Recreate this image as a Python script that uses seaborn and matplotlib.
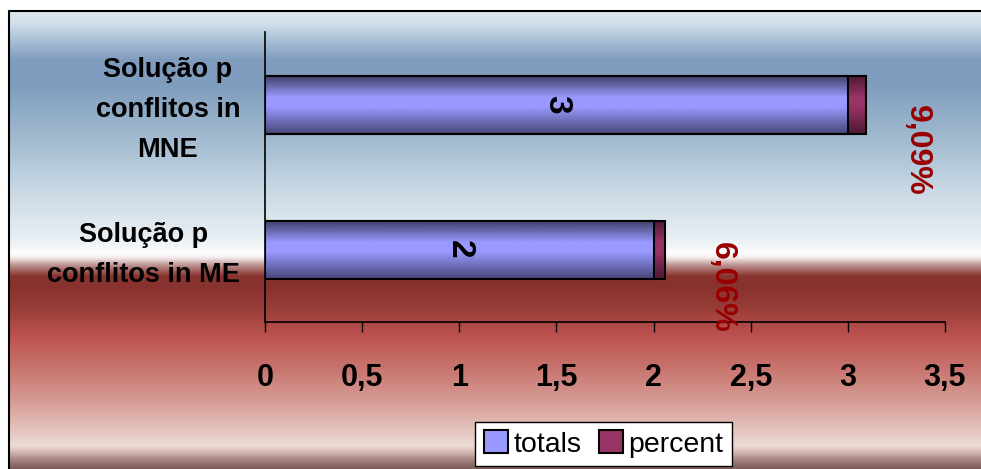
import numpy as np
import pandas as pd
import matplotlib
matplotlib.use("Agg")
import matplotlib.pyplot as plt
import matplotlib.transforms as mtransforms
from matplotlib.colors import LinearSegmentedColormap, to_rgb
from matplotlib.patches import Patch
import seaborn as sns

# ---- data ----
categories = ["Solução p\nconflitos in\nMNE", "Solução p\nconflitos in ME"]
totals = [3, 2]
percent = [0.0909, 0.0606]
percent_labels = ["9,09%", "6,06%"]
x_ticks = [0, 0.5, 1, 1.5, 2, 2.5, 3, 3.5]
x_tick_labels = ["0", "0,5", "1", "1,5", "2", "2,5", "3", "3,5"]
series_names = ["totals", "percent"]

sns.set_theme(style="white")
plt.rcParams["font.family"] = ["Liberation Sans", "DejaVu Sans"]
plt.rcParams["text.color"] = "black"
plt.rcParams["xtick.color"] = "black"
plt.rcParams["ytick.color"] = "black"
plt.rcParams["xtick.labelcolor"] = "black"
plt.rcParams["ytick.labelcolor"] = "black"

W, H = 981, 469
fig = plt.figure(figsize=(W / 100, H / 100), dpi=100)
fig.patch.set_facecolor("white")

# ---- background gradient ----
bg = fig.add_axes([0, 0, 1, 1], zorder=0)
bg.set_xlim(0, W)
bg.set_ylim(H, 0)
bg.axis("off")
stops = [
    (11, "#dce8f0"), (22, "#d2e0ea"), (40, "#a8bfd4"), (60, "#809cbe"),
    (85, "#7f9dbe"), (130, "#9cb6cc"), (190, "#c8d8e4"), (240, "#eaf0f4"),
    (254, "#fdfdfd"), (258, "#f2e8e8"), (266, "#b88a88"), (276, "#8a3430"),
    (288, "#88322f"), (310, "#9a3e3a"), (335, "#bc5250"), (370, "#c97670"),
    (400, "#d69a94"), (430, "#e4c4bc"), (446, "#ecdcd6"), (452, "#d6bcb4"),
    (460, "#a58680"), (469, "#7c5c56"),
]
ys = np.arange(11, H + 1)
sy = np.array([s[0] for s in stops], float)
sc = np.array([to_rgb(s[1]) for s in stops])
grad = np.stack([np.interp(ys, sy, sc[:, k]) for k in range(3)], axis=-1)
bg.imshow(grad[:, None, :], extent=(9, W, H, 11), aspect="auto",
          interpolation="bilinear")
bg.plot([9, 9, W], [H, 11, 11], color="black", lw=1.5, solid_capstyle="butt")

# ---- main axes ----
ax = fig.add_axes([265 / W, (H - 322) / H, 680 / W, 290 / H], zorder=1)
ax.patch.set_alpha(0)

df = pd.DataFrame({"cat": categories, "totals": totals,
                   "sum": [t + p for t, p in zip(totals, percent)]})

sns.barplot(data=df, y="cat", x="sum", color="#993366", width=0.4,
            edgecolor="black", linewidth=1.5, saturation=1, ax=ax, orient="h")
n_sum = len(ax.patches)
sns.barplot(data=df, y="cat", x="totals", color="#9999ff", width=0.4,
            edgecolor="black", linewidth=1.5, saturation=1, ax=ax, orient="h")

def cyl_cmap(light, dark_top, dark_bot):
    return LinearSegmentedColormap.from_list(
        "c", [(0, dark_top), (0.38, light), (0.55, light), (1, dark_bot)])

cm_pct = cyl_cmap("#993366", "#4a1a32", "#4e1a34")
cm_tot = cyl_cmap("#9999ff", "#3e3e66", "#4a4a7c")
gvals = np.linspace(0, 1, 64)[:, None]
for i, p in enumerate(ax.patches):
    cm = cm_pct if i < n_sum else cm_tot
    z = 2 if i < n_sum else 3
    x0, y0 = p.get_x(), p.get_y()
    w, h = p.get_width(), p.get_height()
    im = ax.imshow(gvals, cmap=cm, extent=(x0, x0 + w, y0 + h, y0),
                   aspect="auto", interpolation="bilinear", zorder=z)
    im.set_clip_path(p)
    p.set_facecolor("none")
    p.set_zorder(z + 0.5)

ax.set_xlim(0, 3.5)
ax.set_ylim(1.5, -0.5)
ax.set_xticks(x_ticks)
ax.set_xticklabels(x_tick_labels, fontsize=22, fontweight="bold", color="black")
ax.set_yticks(range(len(categories)))
ax.set_yticklabels([])
ax.set_xlabel("")
ax.set_ylabel("")
ax.tick_params(axis="x", direction="out", length=7.2, width=1, color="black",
               pad=22, bottom=True)
ax.tick_params(axis="y", length=0)

# category labels (drawn as text so the vertical placement can be tuned)
lab_tr = mtransforms.blended_transform_factory(ax.transAxes, ax.transData) + \
    mtransforms.ScaledTranslation(-25 / 100, -5.5 / 100, fig.dpi_scale_trans)
for i, c in enumerate(categories):
    ax.text(0, i, c, transform=lab_tr, ha="right", va="center",
            multialignment="center", linespacing=1.68, fontsize=19.5,
            fontweight="bold", color="black")

for s in ["top", "right"]:
    ax.spines[s].set_visible(False)
for s in ["left", "bottom"]:
    ax.spines[s].set_color("black")
    ax.spines[s].set_linewidth(1.2)
ax.grid(False)

# value labels inside totals segment
for i, t in enumerate(totals):
    ax.text(t / 2, i, str(t), rotation=-90, ha="center", va="center",
            fontsize=24, fontweight="bold", color="black", zorder=5)

# percent labels
offsets = [(51, -46), (57, -38)]
for i, (t, pc, lab) in enumerate(zip(totals, percent, percent_labels)):
    ax.annotate(lab, xy=(t + pc, i), xytext=(offsets[i][0] * 0.72, offsets[i][1] * 0.72),
                textcoords="offset points", rotation=-90, ha="center",
                va="center", fontsize=23, fontweight="bold", color="#990000",
                zorder=5, annotation_clip=False)

# legend
handles = [Patch(facecolor="#9999ff", edgecolor="black", linewidth=1.5),
           Patch(facecolor="#993366", edgecolor="black", linewidth=1.5)]
leg = fig.legend(handles, series_names, loc="center",
                 bbox_to_anchor=(603.5 / W, 1 - 444 / H), ncol=2,
                 fontsize=20.5, frameon=True, fancybox=False,
                 handlelength=0.85, handleheight=0.85, handletextpad=0.2,
                 columnspacing=0.6, borderpad=0.3, borderaxespad=0)
leg.get_frame().set_edgecolor("black")
leg.get_frame().set_linewidth(1)
leg.get_frame().set_facecolor("white")
leg.get_frame().set_alpha(1)
for t in leg.get_texts():
    t.set_color("black")

fig.savefig("out.png", dpi=100)
